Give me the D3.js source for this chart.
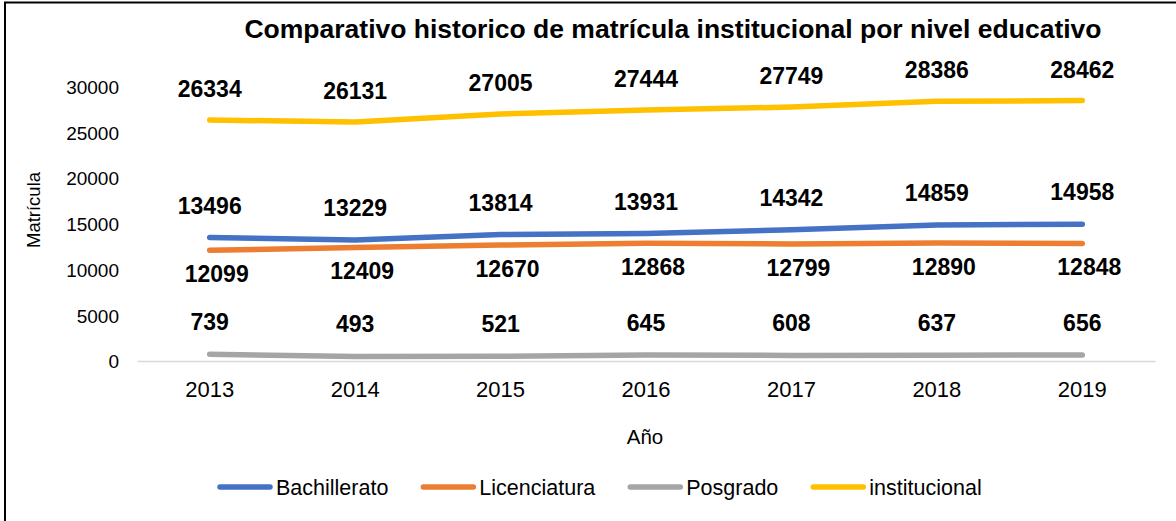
<!DOCTYPE html>
<html>
<head>
<meta charset="utf-8">
<script src="https://cdn.jsdelivr.net/npm/d3@7/dist/d3.min.js"></script>
<style>
  html, body { margin: 0; padding: 0; background: #fff; }
  svg { display: block; }
  text { font-family: Arial, "Liberation Sans", sans-serif; fill: #000; }
</style>
</head>
<body>
<svg id="chart" width="1176" height="521"></svg>
<script>
const years = ["2013", "2014", "2015", "2016", "2017", "2018", "2019"];
const bachillerato = [13496, 13229, 13814, 13931, 14342, 14859, 14958];
const licenciatura = [12099, 12409, 12670, 12868, 12799, 12890, 12848];
const posgrado = [739, 493, 521, 645, 608, 637, 656];
const institucional = [26334, 26131, 27005, 27444, 27749, 28386, 28462];
const yTicks = [0, 5000, 10000, 15000, 20000, 25000, 30000];
const seriesNames = ["Bachillerato", "Licenciatura", "Posgrado", "institucional"];
const titleText = "Comparativo historico de matrícula institucional por nivel educativo";

const series = [
  { name: seriesNames[0], values: bachillerato, color: "#4472C4", dy: -32, dx: 0 },
  { name: seriesNames[1], values: licenciatura, color: "#ED7D31", dy: 24, dx: 7 },
  { name: seriesNames[2], values: posgrado, color: "#A5A5A5", dy: -32, dx: 0 },
  { name: seriesNames[3], values: institucional, color: "#FFC000", dy: -31, dx: 0 }
];

const svg = d3.select("#chart");

// outer frame
svg.append("rect")
  .attr("x", 5).attr("y", 2.5)
  .attr("width", 1300).attr("height", 600)
  .attr("fill", "none").attr("stroke", "#000").attr("stroke-width", 2);

const x = d3.scaleBand().domain(years).range([137, 1155]);
const y = d3.scaleLinear().domain([0, 30000]).range([361, 86.5]);

// title
svg.append("text")
  .attr("x", 673).attr("y", 38)
  .attr("text-anchor", "middle")
  .style("font-size", "26.5px").style("font-weight", "bold")
  .text(titleText);

// y axis tick labels
const yAxis = d3.axisLeft(y).tickValues(yTicks).tickSize(0).tickPadding(0).tickFormat(d3.format("d"));
const gy = svg.append("g").attr("transform", "translate(119,0)").call(yAxis);
gy.select(".domain").remove();
gy.selectAll("text")
  .style("font-family", "Arial, 'Liberation Sans', sans-serif")
  .style("font-size", "19px").attr("fill", "#000").attr("dy", "0.36em");

// x axis
const xAxis = d3.axisBottom(x).tickSize(0).tickPadding(0);
const gx = svg.append("g").attr("transform", "translate(0,361)").call(xAxis);
gx.select(".domain").attr("stroke", "#d9d9d9").attr("stroke-width", 1.5);
gx.selectAll("text")
  .style("font-family", "Arial, 'Liberation Sans', sans-serif")
  .style("font-size", "22px").attr("fill", "#000")
  .attr("y", 36).attr("dy", 0);

// axis titles
svg.append("text")
  .attr("x", 645).attr("y", 444)
  .attr("text-anchor", "middle")
  .style("font-size", "20.5px")
  .text("Año");

svg.append("text")
  .attr("transform", "translate(40,210) rotate(-90)")
  .attr("text-anchor", "middle")
  .style("font-size", "18.5px")
  .text("Matrícula");

const cx = d => x(d) + x.bandwidth() / 2;

const line = d3.line()
  .x((d, i) => cx(years[i]))
  .y(d => y(d));

series.forEach(s => {
  svg.append("path")
    .datum(s.values)
    .attr("d", line)
    .attr("fill", "none")
    .attr("stroke", s.color)
    .attr("stroke-width", 5.5)
    .attr("stroke-linecap", "round")
    .attr("stroke-linejoin", "round");
});

// data labels
series.forEach(s => {
  svg.append("g").selectAll("text")
    .data(s.values)
    .join("text")
    .attr("x", (d, i) => cx(years[i]) + s.dx)
    .attr("y", d => y(d) + s.dy + 8)
    .attr("text-anchor", "middle")
    .style("font-size", "23px").style("font-weight", "bold")
    .text(d => d);
});

// legend
const lg = svg.append("g").attr("transform", "translate(217,487)");
let lx = 0;
series.forEach(s => {
  lg.append("line")
    .attr("x1", lx + 3).attr("x2", lx + 53)
    .attr("y1", 0).attr("y2", 0)
    .attr("stroke", s.color).attr("stroke-width", 5.5)
    .attr("stroke-linecap", "round");
  const t = lg.append("text")
    .attr("x", lx + 59).attr("y", 7.6)
    .style("font-size", "21.5px")
    .text(s.name);
  const w = t.node().getComputedTextLength();
  lx += 59 + w + 32;
});
</script>
</body>
</html>
